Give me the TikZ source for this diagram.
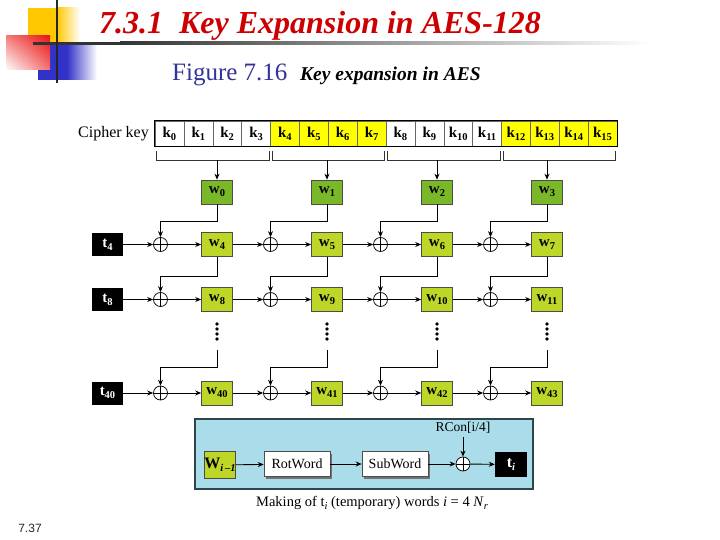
\documentclass[tikz,border=0pt]{standalone}
\usepackage{fontspec}
\setmainfont{Liberation Serif}
\setsansfont{Liberation Sans}
\usetikzlibrary{arrows.meta,shadows,shadings,calc}
\definecolor{titlered}{RGB}{204,0,0}
\definecolor{figblue}{RGB}{51,51,153}
\definecolor{wdark}{RGB}{122,184,42}
\definecolor{wlight}{RGB}{190,214,40}
\definecolor{kyellow}{RGB}{255,255,0}
\definecolor{boxblue}{RGB}{170,220,234}
\definecolor{boxedge}{RGB}{45,70,75}
\definecolor{decoyellow}{RGB}{255,200,0}
\definecolor{decoblue}{RGB}{50,50,200}
\definecolor{decored}{RGB}{235,20,20}
\newcommand\sub[1]{\raisebox{-0.45ex}{\fontsize{10.5}{10.5}\selectfont #1}}
\begin{document}
\begin{tikzpicture}[x=1pt,y=-1pt,
  kcell/.style={draw=black!60, line width=0.5pt, minimum width=28.875pt, minimum height=25pt, inner sep=0pt, font=\fontsize{15}{15}\selectfont\bfseries},
  wbox/.style={draw=black!70, line width=0.6pt, minimum width=31pt, minimum height=24pt, inner sep=0pt, font=\fontsize{15}{15}\selectfont\bfseries},
  tbox/.style={fill=black, minimum width=31pt, minimum height=23pt, inner sep=0pt, text=white, font=\fontsize{15}{15}\selectfont\bfseries},
  xorc/.style={circle, draw=black, line width=0.7pt, fill=white, minimum size=14pt, inner sep=0pt,
    path picture={\draw[line width=0.6pt] (path picture bounding box.north) -- (path picture bounding box.south)
      (path picture bounding box.west) -- (path picture bounding box.east);}},
  arr/.style={-{Stealth[length=6pt,width=5pt]}, line width=0.9pt},
  bracket/.style={draw=black!80, line width=0.8pt},
  opbox/.style={draw=black!70, line width=0.6pt, fill=white, minimum width=66pt, minimum height=25pt, inner sep=0pt,
    font=\fontsize{14}{14}\selectfont, drop shadow={shadow xshift=2pt, shadow yshift=-2pt, fill=black!55, opacity=1}},
  dotm/.style={fill=black}
]
\useasboundingbox (0,0) rectangle (720,540);
% decoration
\fill[decoyellow] (28,8) rectangle (57,42);
\shade[left color=decoyellow, right color=white] (57,8) rectangle (80,42);
\fill[decoblue] (38,43) rectangle (67,80);
\shade[left color=decoblue, right color=white] (67,43) rectangle (97,80);
\shade[upper right=decored, upper left=decored!55, lower right=decored!60, lower left=white] (6,36) rectangle (50,70);
\fill[black!80] (33,42) rectangle (120,45);
\shade[left color=black!80, right color=white] (120,42) rectangle (650,45);
\draw[line width=2.2pt, black!85] (57,0) -- (57,83);
% titles
\node[font=\fontsize{32}{32}\selectfont\bfseries\itshape, text=titlered, anchor=base] (title) at (320,34) {7.3.1\ \ Key Expansion in AES-128};
\node[font=\fontsize{25}{25}\selectfont, text=figblue, anchor=base west, inner sep=0pt] (fig) at (172,81) {Figure 7.16};
\node[font=\fontsize{19.5}{19.5}\selectfont\bfseries\itshape, anchor=base west, inner sep=0pt] (figt) at (300,81) {Key expansion in AES};
% cipher key
\node[font=\fontsize{16}{16}\selectfont, anchor=east, inner sep=0pt] (ck) at (149,133.5) {Cipher key};
\foreach \i in {0,...,15} {
  \pgfmathsetmacro\cx{155+28.875*(\i+0.5)}
  \pgfmathtruncatemacro\g{mod(int(\i/4),2)}
  \ifnum\g=1 \def\kf{kyellow}\else\def\kf{white}\fi
  \node[kcell, fill=\kf] (k\i) at (\cx,133.5) {k\sub{\i}};
}
\draw[line width=0.7pt] (k0.north west) rectangle (k15.south east);
\foreach \g in {0,...,3} {
  \pgfmathsetmacro\bl{155+115.5*\g+1.5}
  \pgfmathsetmacro\br{155+115.5*(\g+1)-1.5}
  \draw[bracket] (\bl,151) -- (\bl,160) -- (\br,160) -- (\br,151);
  \coordinate (b\g) at ({217+110*\g},160);
}
% w boxes
\foreach \r/\yy in {0/192,1/244.5,2/299.5,3/393} {
  \foreach \j in {0,...,3} {
    \pgfmathtruncatemacro\lab{\r==3 ? 40+\j : 4*\r+\j}
    \pgfmathsetmacro\xx{217+110*\j}
    \ifnum\r=0 \def\wf{wdark}\else\def\wf{wlight}\fi
    \node[wbox, fill=\wf] (w-\r-\j) at (\xx,\yy) {w\sub{\lab}};
  }
}
\foreach \g in {0,...,3} \draw[arr] (b\g) -- (w-0-\g);
% t boxes
\node[tbox] (t-1) at (107.5,244.5) {t\sub{4}};
\node[tbox] (t-2) at (107.5,299.5) {t\sub{8}};
\node[tbox] (t-3) at (107.5,393) {t\sub{40}};
% xor circles and row connections
\foreach \r/\yy in {1/244.5,2/299.5,3/393} {
  \foreach \j in {0,...,3} {
    \pgfmathsetmacro\xx{160.5+110*\j}
    \node[xorc] (x-\r-\j) at (\xx,\yy) {};
    \draw[arr] (x-\r-\j) -- (w-\r-\j);
  }
  \draw[arr] (t-\r) -- (x-\r-0);
  \foreach \j [evaluate=\j as \k using int(\j+1)] in {0,1,2}
    \draw[arr] (w-\r-\j) -- (x-\r-\k);
}
% feeds
\foreach \j in {0,...,3} {
  \draw[arr] (w-0-\j.south) -- ++(0,17) -| (x-1-\j.north);
  \draw[arr] (w-1-\j.south) -- ++(0,20) -| (x-2-\j.north);
  \foreach \dy in {324,329,334,339} \fill[dotm] ({217+110*\j},\dy) circle (1.8pt);
  \coordinate (d-\j) at ({217+110*\j},350);
  \draw[arr] (d-\j) -- ++(0,17) -| (x-3-\j.north);
}
% making of t_i
\node[draw=boxedge, fill=boxblue, line width=1.6pt, minimum width=338pt, minimum height=70pt, inner sep=0pt] (mk) at (364,454) {};
\node[wbox, fill=wlight, minimum height=27pt, font=\fontsize{16}{16}\selectfont\bfseries] (wi) at (220,465) {W\sub{\itshape i\,–1}};
\node[opbox] (rot) at (297,464) {RotWord};
\node[opbox] (subw) at (395,464) {SubWord};
\node[xorc] (xt) at (463,464) {};
\node[tbox, minimum width=32pt, minimum height=25pt, font=\fontsize{16}{16}\selectfont\bfseries] (ti) at (511,464.5) {t\sub{\itshape i}};
\node[font=\fontsize{13.5}{13.5}\selectfont, inner sep=1pt] (rc) at (463,428) {RCon[i/4]};
\draw[arr] (wi) -- (rot);
\draw[arr] (rot) -- (subw);
\draw[arr] (subw) -- (xt);
\draw[arr] (xt) -- (ti);
\draw[arr] (rc.south) ++(0,2) -- (xt.north);
\node[font=\fontsize{14.5}{14.5}\selectfont] (cap) at (372,503) {Making of t\sub{\itshape i} (temporary) words \textit{i} = 4 \textit{N}\sub{\itshape r}};
\node[font=\sffamily\fontsize{12}{12}\selectfont, text=black!85] (pg) at (30,528) {7.37};
\end{tikzpicture}
\end{document}
